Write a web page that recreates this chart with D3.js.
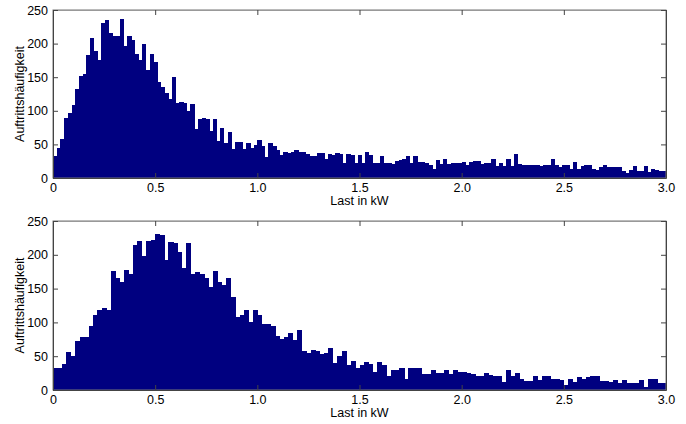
<!DOCTYPE html>
<html>
<head>
<meta charset="utf-8">
<script src="https://cdn.jsdelivr.net/npm/d3@7"></script>
<style>
  body { margin: 0; background: #fff; }
  text { font-family: "Liberation Sans", Arial, sans-serif; }
</style>
</head>
<body>
<svg id="chart" width="686" height="424"></svg>
<script>
// Histogram counts (bins spanning 0..3 kW)
const topCounts = [33,45,58,90,97,108,133,152,155,183,209,189,175,230,235,216,211,212,237,197,
  211,205,185,175,199,160,185,173,143,135,127,117,150,112,113,112,100,110,73,88,
  90,88,70,88,55,74,52,69,43,53,53,43,52,44,49,57,47,31,52,48,
  42,34,38,37,39,41,39,38,36,32,33,37,37,29,35,34,37,36,22,35,
  34,23,34,22,39,34,22,23,33,22,22,21,26,27,29,32,23,33,24,24,
  22,19,14,27,21,28,21,22,23,22,24,19,24,26,25,21,22,22,29,18,
  23,18,28,18,35,21,20,19,20,19,20,18,19,20,29,19,17,19,20,14,
  24,13,18,19,20,14,12,16,20,17,16,16,17,11,7,12,18,10,10,18,
  9,13,12,10,10];
const bottomCounts = [33,33,39,56,50,72,79,78,94,111,118,121,119,176,165,160,177,172,214,221,
  198,220,222,231,230,192,219,218,204,181,218,171,175,171,166,153,176,160,156,166,
  138,108,111,119,101,118,111,97,97,94,80,76,79,85,74,89,58,54,59,57,
  53,54,62,40,50,58,37,43,32,37,42,39,26,41,37,20,29,30,33,16,
  32,32,33,24,24,29,25,25,30,24,30,26,27,25,24,20,21,25,22,20,
  20,12,29,20,25,17,14,14,21,15,20,21,16,16,15,7,16,12,19,17,
  19,20,20,13,13,12,15,10,15,10,11,10,15,5,17,16,11,10];
const xTicks = [0, 0.5, 1.0, 1.5, 2.0, 2.5, 3.0];
const yTicks = [0, 50, 100, 150, 200, 250];
const xLabel = "Last in kW";
const yLabel = "Auftrittshäufigkeit";

const svg = d3.select("#chart");
const left = 53, right = 666;
const panels = [
  {counts: topCounts, top: 10, bottom: 178},
  {counts: bottomCounts, top: 221, bottom: 390}
];

const x = d3.scaleLinear().domain([0, 3]).range([left, right]);

panels.forEach(p => {
  const y = d3.scaleLinear().domain([0, 250]).range([p.bottom, p.top]);
  const binW = 3 / p.counts.length;
  const g = svg.append("g");

  // bars
  g.selectAll("rect.bar")
    .data(p.counts)
    .enter().append("rect")
    .attr("class", "bar")
    .attr("x", (d, i) => x(i * binW))
    .attr("width", (d, i) => x((i + 1) * binW) - x(i * binW) + 0.6)
    .attr("y", d => y(d))
    .attr("height", d => y(0) - y(d))
    .attr("fill", "#000080")
    .attr("shape-rendering", "crispEdges");

  // box
  g.append("rect")
    .attr("x", left).attr("y", p.top)
    .attr("width", right - left).attr("height", p.bottom - p.top)
    .attr("fill", "none").attr("stroke", "#777").attr("stroke-width", 1);

  const fmtX = d => d === 0 ? "0" : d3.format(".1f")(d);

  const ax = g.append("g")
    .attr("transform", `translate(0,${p.bottom})`)
    .call(d3.axisBottom(x).tickValues(xTicks).tickFormat(fmtX).tickSizeInner(-5).tickSizeOuter(0).tickPadding(5));
  const axTop = g.append("g")
    .attr("transform", `translate(0,${p.top})`)
    .call(d3.axisTop(x).tickValues(xTicks).tickFormat("").tickSizeInner(-5).tickSizeOuter(0));
  const ay = g.append("g")
    .attr("transform", `translate(${left},0)`)
    .call(d3.axisLeft(y).tickValues(yTicks).tickFormat(d3.format("d")).tickSizeInner(-5).tickSizeOuter(0).tickPadding(5));
  const ayR = g.append("g")
    .attr("transform", `translate(${right},0)`)
    .call(d3.axisRight(y).tickValues(yTicks).tickFormat("").tickSizeInner(-5).tickSizeOuter(0));

  [ax, axTop, ay, ayR].forEach(a => {
    a.select(".domain").attr("stroke", "#444");
    a.selectAll(".tick line").attr("stroke", "#444");
    a.selectAll("text").attr("font-size", 12.5).attr("fill", "#000")
      .attr("font-family", "Liberation Sans, Arial, sans-serif");
  });
  axTop.select(".domain").attr("stroke", "#999");

  g.append("text")
    .attr("x", (left + right) / 2)
    .attr("y", p.bottom + 27)
    .attr("text-anchor", "middle")
    .attr("font-size", 12.5)
    .text(xLabel);

  g.append("text")
    .attr("transform", `translate(24,${(p.top + p.bottom) / 2}) rotate(-90)`)
    .attr("text-anchor", "middle")
    .attr("font-size", 12.5)
    .text(yLabel);
});
</script>
</body>
</html>
